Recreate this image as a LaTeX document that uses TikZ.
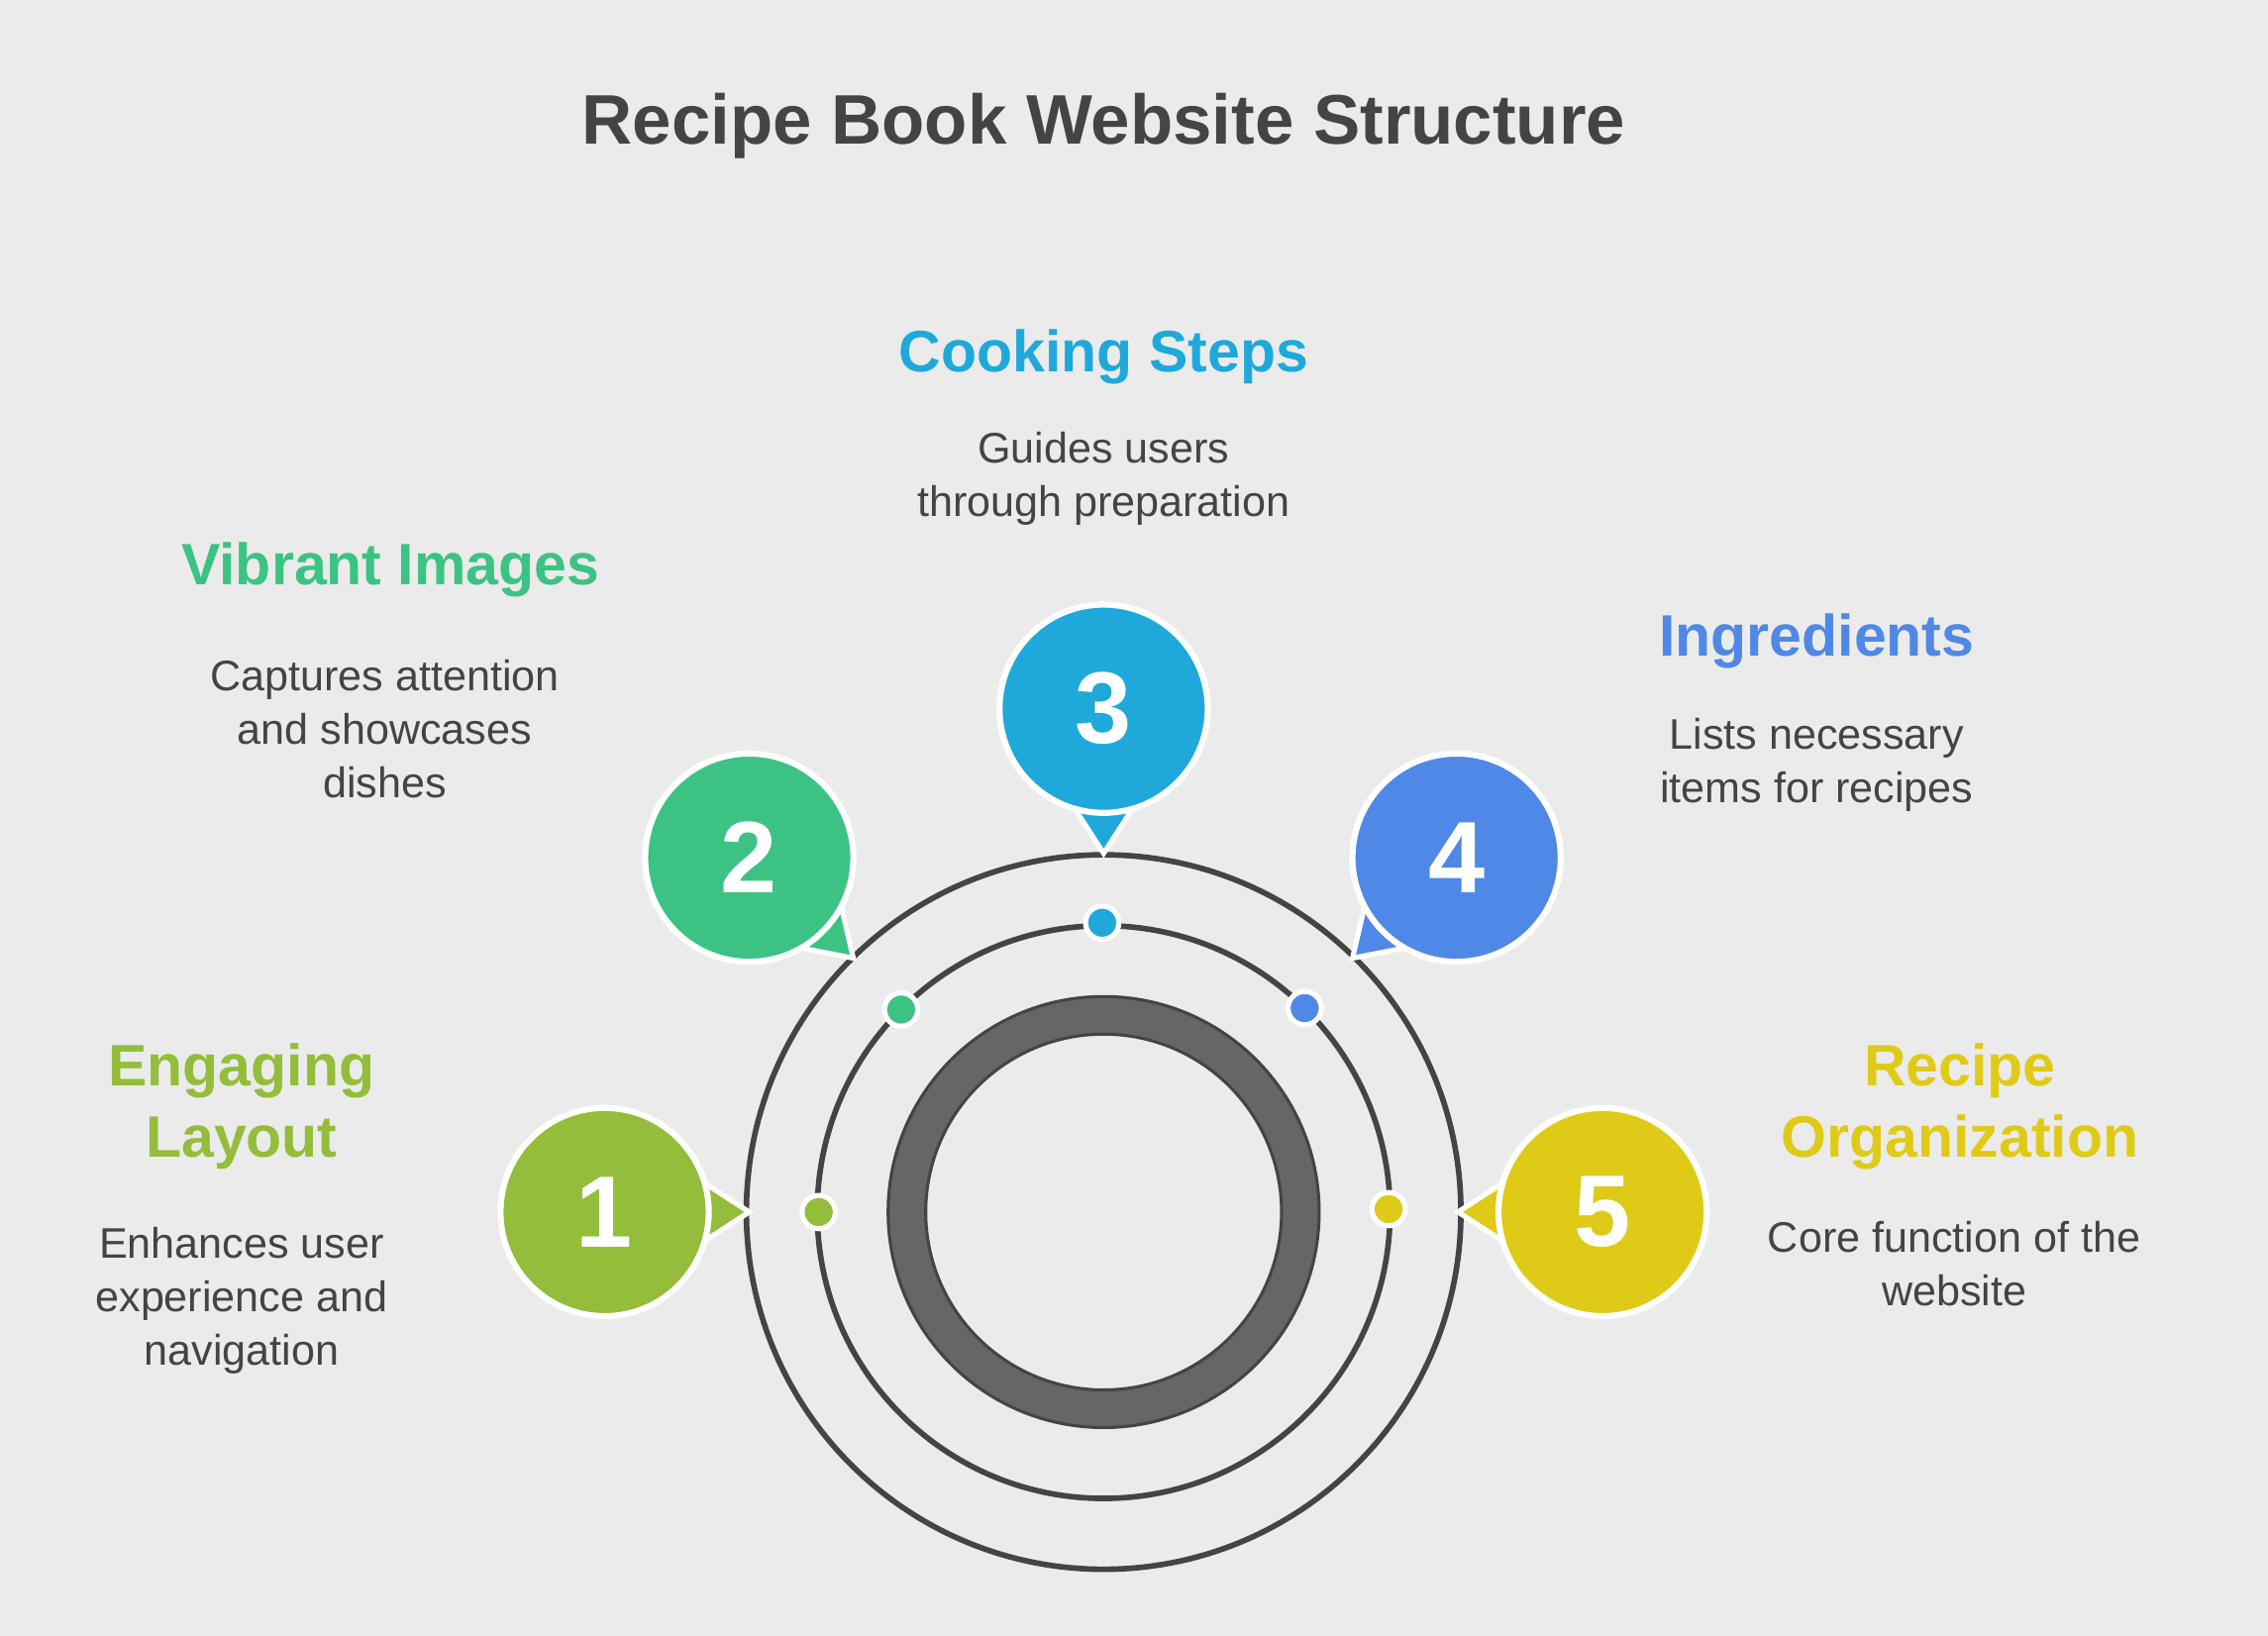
\documentclass[tikz,border=0pt]{standalone}
\usepackage{fontspec}
\setmainfont{Liberation Sans}
\usepackage{xcolor}
\usetikzlibrary{calc,positioning}
\definecolor{bg}{HTML}{EBEBEB}
\definecolor{ink}{HTML}{444444}
\definecolor{cOne}{HTML}{93BD3A}
\definecolor{cTwo}{HTML}{3CC383}
\definecolor{cThree}{HTML}{1FA9DA}
\definecolor{cFour}{HTML}{4F88E6}
\definecolor{cFive}{HTML}{DFCA17}
\newcommand{\pointer}[3]{% node, angle, colour
  \fill[#3, draw=white, line width=1pt] ($(#1)+(#2+32:0.6)$) -- ($(#1)+(#2:1.0)$) -- ($(#1)+(#2-32:0.6)$) -- cycle;}
\begin{document}
\begin{tikzpicture}[
    bubble/.style={circle, draw=white, line width=1.2pt, minimum size=1.44cm, text=white, font=\fontsize{20}{24}\selectfont\bfseries},
    dot/.style={circle, draw=white, line width=1pt, minimum size=0.23cm, inner sep=0pt},
    head/.style={align=center, font=\fontsize{11.5}{14}\selectfont\bfseries},
    body/.style={align=center, text=ink, font=\fontsize{8.4}{10.5}\selectfont},
    orbit/.style={draw=ink, line width=1.1pt}
]
\fill[bg] (0,0) rectangle (15.68,-11.31);
\useasboundingbox (0,0) rectangle (15.68,-11.31);

% Title
\node[text=ink, font=\fontsize{13.8}{16}\selectfont\bfseries] (title) at (7.63,-0.87) {Recipe Book Website Structure};

% Rings
\coordinate (hub) at (7.63,-8.38);
\draw[orbit] (hub) circle (2.47);
\draw[orbit] (hub) circle (1.98);
\draw[draw=ink, line width=0.6pt, fill=black!60, even odd rule] (hub) circle (1.49) (hub) circle (1.23);

% Bubbles
\coordinate (p1) at (4.18,-8.38);
\coordinate (p2) at (5.18,-5.93);
\coordinate (p3) at (7.63,-4.90);
\coordinate (p4) at (10.07,-5.93);
\coordinate (p5) at (11.08,-8.38);
\pointer{p1}{0}{cOne}
\pointer{p2}{-44}{cTwo}
\pointer{p3}{-90}{cThree}
\pointer{p4}{-136}{cFour}
\pointer{p5}{180}{cFive}
\node[bubble, fill=cOne] (b1) at (p1) {1};
\node[bubble, fill=cTwo] (b2) at (p2) {2};
\node[bubble, fill=cThree] (b3) at (p3) {3};
\node[bubble, fill=cFour] (b4) at (p4) {4};
\node[bubble, fill=cFive] (b5) at (p5) {5};

% Dots
\node[dot, fill=cOne] (d1) at (5.66,-8.38) {};
\node[dot, fill=cTwo] (d2) at (6.23,-6.98) {};
\node[dot, fill=cThree] (d3) at (7.62,-6.38) {};
\node[dot, fill=cFour] (d4) at (9.02,-6.97) {};
\node[dot, fill=cFive] (d5) at (9.60,-8.36) {};

% Labels
\node[head, text=cOne] (h1) at (1.67,-7.65) {Engaging\\Layout};
\node[body] (t1) at (1.67,-8.99) {Enhances user\\experience and\\navigation};
\node[head, text=cTwo] (h2) at (2.70,-3.94) {Vibrant Images};
\node[body] (t2) at (2.66,-5.04) {Captures attention\\and showcases\\dishes};
\node[head, text=cThree] (h3) at (7.63,-2.47) {Cooking Steps};
\node[body] (t3) at (7.63,-3.31) {Guides users\\through preparation};
\node[head, text=cFour] (h4) at (12.56,-4.43) {Ingredients};
\node[body] (t4) at (12.56,-5.29) {Lists necessary\\items for recipes};
\node[head, text=cFive] (h5) at (13.55,-7.65) {Recipe\\Organization};
\node[body] (t5) at (13.51,-8.74) {Core function of the\\website};
\end{tikzpicture}
\end{document}
